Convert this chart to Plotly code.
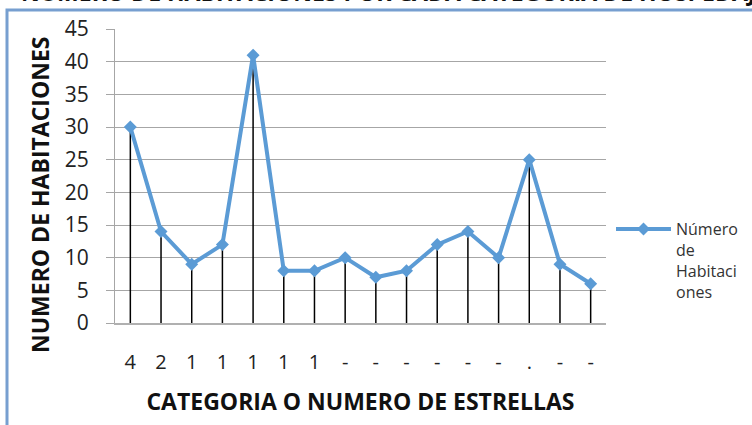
import plotly.graph_objects as go

categories = ["4", "2", "1", "1", "1", "1", "1", "-", "-", "-", "-", "-", "-", ".", "-", "-"]
habitaciones = [30, 14, 9, 12, 41, 8, 8, 10, 7, 8, 12, 14, 10, 25, 9, 6]
y_ticks = [0, 5, 10, 15, 20, 25, 30, 35, 40, 45]
series_name = "Número<br>de<br>Habitaci<br>ones"
title_text = "NUMERO DE HABITACIONES POR CADA CATEGORIA DE HOSPEDAJE"
x_title = "CATEGORIA O NUMERO DE ESTRELLAS"
y_title = "NUMERO DE HABITACIONES"

x_pos = list(range(len(categories)))
FONT = "Open Sans"
L, R, T, B = 115, 146, 29, 102
PW, PH = 752 - L - R, 425 - T - B


def px_x(px):
    return (px - L) / PW


def px_y(py):
    return (425 - B - py) / PH


fig = go.Figure()
fig.add_trace(go.Scatter(
    x=x_pos, y=habitaciones, mode="lines+markers", name=series_name,
    line=dict(color="#5B9BD5", width=4),
    marker=dict(symbol="diamond", size=10, color="#5B9BD5"),
    error_y=dict(type="data", symmetric=False, array=[0] * len(habitaciones),
                 arrayminus=habitaciones, width=0, color="black", thickness=1.5),
))

fig.update_layout(
    width=752, height=425,
    margin=dict(l=L, r=R, t=T, b=B, autoexpand=False),
    paper_bgcolor="white", plot_bgcolor="white",
    font=dict(family=FONT, color="#222"),
    showlegend=True,
    legend=dict(x=px_x(611), y=px_y(212), xanchor="left", yanchor="top", valign="top",
                font=dict(size=16, family=FONT, color="#333"), itemwidth=55,
                bgcolor="rgba(0,0,0,0)"),
    xaxis=dict(range=[-0.5, len(categories) - 0.5], tickmode="array",
               tickvals=x_pos, ticktext=categories, showgrid=False,
               showline=True, linecolor="#B0B0B0", linewidth=2, ticks="",
               tickfont=dict(size=20, color="#222"), ticklabelstandoff=20,
               zeroline=False, automargin=False,
               title=dict(text="<b>" + x_title + "</b>",
                          font=dict(size=23, color="#111"), standoff=20)),
    yaxis=dict(range=[0, 45], tickmode="array", tickvals=y_ticks,
               showgrid=True, gridcolor="#A6A6A6", gridwidth=1,
               showline=True, linecolor="#A6A6A6", linewidth=1,
               ticks="outside", ticklen=8, tickcolor="#A6A6A6",
               tickfont=dict(size=21, color="#222"), ticklabelstandoff=13,
               zeroline=False, automargin=False),
)

fig.add_annotation(text="<b>" + y_title + "</b>", xref="paper", yref="paper",
                   x=px_x(40), y=px_y(195), xanchor="center", yanchor="middle",
                   textangle=-90, showarrow=False,
                   font=dict(size=23, family=FONT, color="#111"))

fig.add_shape(type="rect", xref="paper", yref="paper",
              x0=px_x(7), y0=-0.6, x1=1.6, y1=px_y(10),
              line=dict(color="#779FD0", width=3), fillcolor="rgba(0,0,0,0)",
              layer="below")

fig.add_annotation(text="<b>" + title_text + "</b>", xref="paper", yref="paper",
                   x=px_x(19), y=px_y(8), xanchor="left",
                   yanchor="middle", yshift=16, showarrow=False,
                   font=dict(size=23, family=FONT, color="#111"))

fig.write_html("out.html", config={"displayModeBar": False},
               post_script="document.body.style.margin='0';document.body.style.overflow='hidden';")
